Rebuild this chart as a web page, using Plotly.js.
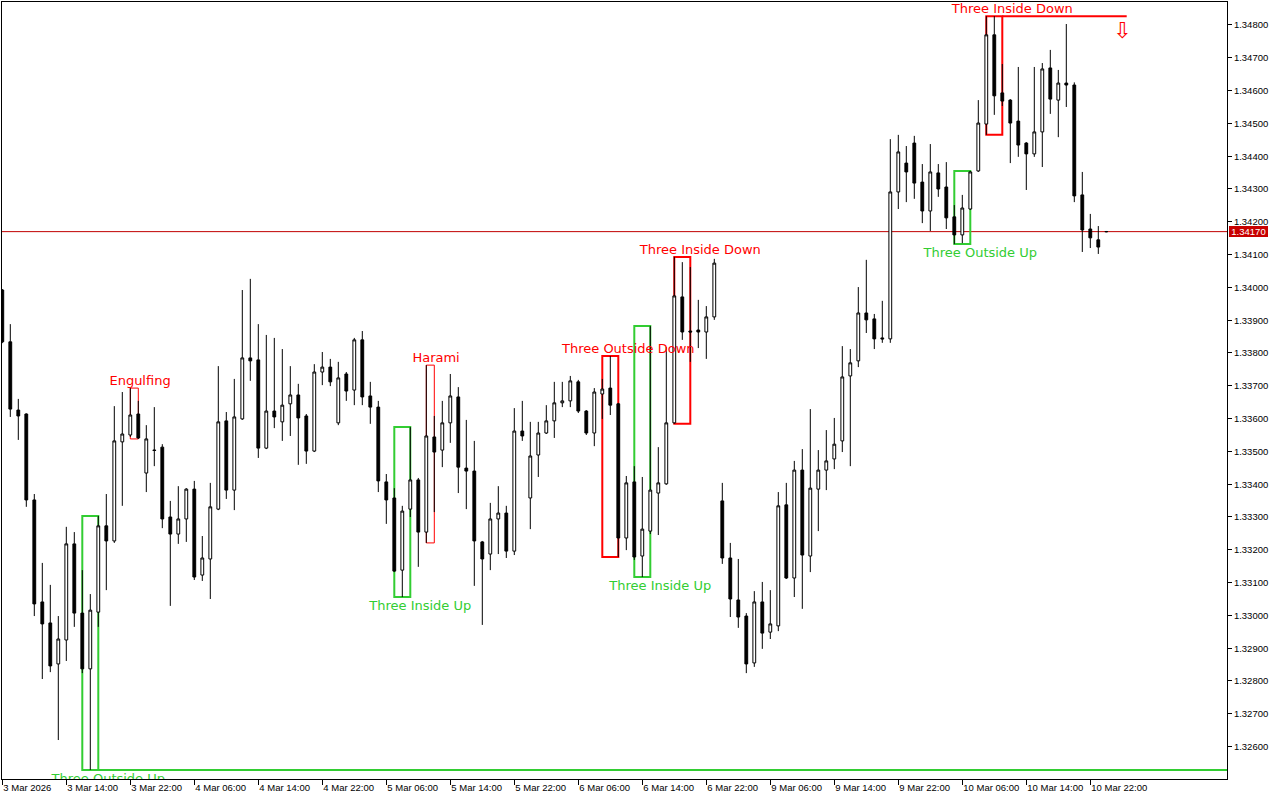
<!DOCTYPE html>
<html><head><meta charset="utf-8">
<script src="https://cdn.plot.ly/plotly-3.0.1.min.js"></script>
<style>html,body{margin:0;padding:0;background:#fff;}#chart{width:1280px;height:800px;}</style>
</head><body><div id="chart"></div>
<script>
// ---- hourly bars, 3 Mar 2026 06:00 -> 11 Mar 00:00 ----
const open = [
1.33992,1.33834,1.33626,1.33614,1.33352,1.33041,1.32977,1.32852,1.32925,1.33218,
1.33007,1.32837,1.33010,1.33273,1.33227,1.33529,1.33550,1.33614,1.33434,1.33504,
1.33513,1.33300,1.33248,1.33294,1.33385,1.33123,1.33172,1.33324,1.33593,1.33382,
1.33599,1.33785,1.33779,1.33510,1.33623,1.33590,1.33645,1.33672,1.33608,1.33501,
1.33742,1.33757,1.33587,1.33736,1.33687,1.33840,1.33669,1.33635,1.33407,1.33358,
1.33138,1.33324,1.33413,1.33254,1.33544,1.33504,1.33587,1.33666,1.33449,1.33440,
1.33224,1.33187,1.33294,1.33312,1.33196,1.33562,1.33358,1.33489,1.33556,1.33593,
1.33648,1.33654,1.33712,1.33623,1.33556,1.33675,1.33693,1.33645,1.33236,1.33407,
1.33181,1.33257,1.33373,1.33401,1.33587,1.33971,1.33867,1.33870,1.33864,1.33910,
1.33349,1.33175,1.33047,1.32998,1.32855,1.33041,1.32949,1.32968,1.33337,1.33114,
1.33443,1.33181,1.33385,1.33443,1.33477,1.33532,1.33730,1.33776,1.33922,1.33904,
1.33846,1.33843,1.34291,1.34379,1.34440,1.34321,1.34233,1.34349,1.34306,1.34215,
1.34160,1.34239,1.34355,1.34498,1.34770,1.34593,1.34571,1.34507,1.34440,1.34407,
1.34474,1.34669,1.34571,1.34623,1.34617,1.34282,1.34178,1.34145,1.34170];
const high = [
1.33995,1.33888,1.33660,1.33616,1.33370,1.33160,1.33093,1.32998,1.33270,1.33254,
1.33138,1.33065,1.33303,1.33370,1.33638,1.33681,1.33693,1.33654,1.33580,1.33635,
1.33522,1.33349,1.33394,1.33388,1.33410,1.33242,1.33404,1.33760,1.33620,1.33721,
1.33992,1.34026,1.33888,1.33855,1.33846,1.33812,1.33760,1.33706,1.33614,1.33766,
1.33803,1.33782,1.33773,1.33742,1.33846,1.33867,1.33712,1.33654,1.33431,1.33388,
1.33334,1.33574,1.33419,1.33763,1.33608,1.33654,1.33736,1.33696,1.33596,1.33532,
1.33227,1.33343,1.33394,1.33334,1.33632,1.33654,1.33590,1.33590,1.33641,1.33712,
1.33712,1.33730,1.33718,1.33626,1.33693,1.33721,1.33791,1.33648,1.33425,1.33455,
1.33422,1.33882,1.33513,1.33818,1.34093,1.34077,1.34062,1.33962,1.33943,1.34087,
1.33404,1.33221,1.33172,1.33007,1.33074,1.33102,1.33077,1.33376,1.33404,1.33471,
1.33507,1.33629,1.33504,1.33565,1.33602,1.33821,1.33812,1.34001,1.34084,1.33919,
1.33959,1.34452,1.34465,1.34431,1.34462,1.34376,1.34437,1.34376,1.34382,1.34251,
1.34282,1.34355,1.34571,1.34827,1.34827,1.34681,1.34574,1.34672,1.34443,1.34672,
1.34684,1.34724,1.34663,1.34803,1.34625,1.34352,1.34224,1.34187,1.34172];
const low = [
1.33830,1.33605,1.33535,1.33331,1.32998,1.32806,1.32827,1.32620,1.32861,1.32965,
1.32824,1.32529,1.32965,1.33077,1.33221,1.33334,1.33544,1.33538,1.33376,1.33455,
1.33266,1.33029,1.33218,1.33224,1.33108,1.33105,1.33050,1.33321,1.33355,1.33321,
1.33596,1.33715,1.33480,1.33507,1.33571,1.33532,1.33547,1.33459,1.33462,1.33498,
1.33702,1.33699,1.33580,1.33654,1.33641,1.33641,1.33584,1.33376,1.33279,1.33132,
1.33056,1.33300,1.33148,1.33221,1.33315,1.33452,1.33526,1.33373,1.33324,1.33090,
1.32971,1.33138,1.33187,1.33175,1.33184,1.33532,1.33263,1.33422,1.33553,1.33541,
1.33635,1.33635,1.33617,1.33550,1.33516,1.33599,1.33611,1.33178,1.33199,1.33169,
1.33117,1.33248,1.33245,1.33398,1.33584,1.33840,1.33773,1.33815,1.33782,1.33901,
1.33157,1.32995,1.32962,1.32824,1.32843,1.32898,1.32928,1.32952,1.33111,1.33056,
1.33020,1.33132,1.33257,1.33382,1.33446,1.33498,1.33455,1.33757,1.33861,1.33812,
1.33831,1.33831,1.34239,1.34260,1.34270,1.34196,1.34172,1.34276,1.34178,1.34132,
1.34135,1.34236,1.34352,1.34465,1.34526,1.34553,1.34379,1.34398,1.34297,1.34398,
1.34367,1.34529,1.34458,1.34550,1.34260,1.34108,1.34120,1.34102,1.34168];
const close = [
1.33834,1.33629,1.33608,1.33352,1.33035,1.32974,1.32846,1.32928,1.33218,1.33007,
1.32837,1.33016,1.33273,1.33227,1.33532,1.33553,1.33611,1.33541,1.33538,1.33503,
1.33294,1.33248,1.33294,1.33385,1.33117,1.33175,1.33331,1.33590,1.33382,1.33605,
1.33785,1.33776,1.33510,1.33623,1.33605,1.33641,1.33672,1.33602,1.33501,1.33742,
1.33757,1.33712,1.33724,1.33684,1.33840,1.33666,1.33635,1.33410,1.33352,1.33135,
1.33318,1.33413,1.33254,1.33547,1.33498,1.33587,1.33669,1.33452,1.33440,1.33227,
1.33172,1.33294,1.33312,1.33196,1.33562,1.33547,1.33486,1.33556,1.33593,1.33648,
1.33654,1.33715,1.33623,1.33556,1.33681,1.33690,1.33641,1.33236,1.33404,1.33178,
1.33263,1.33382,1.33404,1.33587,1.33974,1.33864,1.33864,1.33864,1.33910,1.34074,
1.33175,1.33050,1.32995,1.32852,1.33041,1.32946,1.32974,1.33334,1.33114,1.33443,
1.33184,1.33388,1.33443,1.33471,1.33522,1.33727,1.33770,1.33922,1.33901,1.33843,
1.33843,1.34291,1.34413,1.34352,1.34318,1.34233,1.34352,1.34300,1.34212,1.34160,
1.34242,1.34352,1.34501,1.34770,1.34584,1.34568,1.34501,1.34434,1.34407,1.34474,
1.34666,1.34574,1.34623,1.34617,1.34279,1.34175,1.34151,1.34123,1.34170];

// time-axis labels (bar index -> label)
const tickBars = [0,8,16,24,32,40,48,56,64,72,80,88,96,104,112,120,128,136];
const tickLabels = ['3 Mar 2026','3 Mar 14:00','3 Mar 22:00','4 Mar 06:00','4 Mar 14:00','4 Mar 22:00',
  '5 Mar 06:00','5 Mar 14:00','5 Mar 22:00','6 Mar 06:00','6 Mar 14:00','6 Mar 22:00',
  '9 Mar 06:00','9 Mar 14:00','9 Mar 22:00','10 Mar 06:00','10 Mar 14:00','10 Mar 22:00'];
const priceTicks = ['1.32600','1.32700','1.32800','1.32900','1.33000','1.33100','1.33200','1.33300',
  '1.33400','1.33500','1.33600','1.33700','1.33800','1.33900','1.34000','1.34100','1.34200',
  '1.34300','1.34400','1.34500','1.34600','1.34700','1.34800'];

// detected candlestick patterns
const patternNames = ['Three Outside Up','Engulfing','Three Inside Up','Harami','Three Outside Down',
  'Three Inside Up','Three Inside Down','Three Outside Up','Three Inside Down'];
const patternFirst = [10,16,49,53,75,79,84,119,123];
const patternLast  = [12,17,51,54,77,81,86,121,125];
const patternBullish = [true,false,true,false,false,true,false,true,false];
const currentPrice = 1.34170;
const signalBar = 140;

// ---- drawing ----
const bars = open.map((_, i) => i);
const xRange = [-0.0375, 153.0875];
const yRange = [1.325012, 1.348701];
const PLOT_H = 777;
const pxY = (yRange[1] - yRange[0]) / PLOT_H;
const UP = '#32cd32', DN = '#ff0000';

const shapes = [];
const tx = [], ty = [], ts = [], tc = [];
const boxHi = [], boxLo = [];
patternNames.forEach((name, i) => {
  const a = patternFirst[i], b = patternLast[i];
  let hi = -Infinity, lo = Infinity;
  for (let k = a; k <= b; k++) { hi = Math.max(hi, high[k]); lo = Math.min(lo, low[k]); }
  boxHi.push(hi); boxLo.push(lo);
  const col = patternBullish[i] ? UP : DN;
  const n = b - a + 1;
  shapes.push({type:'rect', xref:'x', yref:'y', x0:a, x1:b, y0:lo, y1:hi,
    line:{color:col, width: n >= 3 ? 2 : 1}, layer:'below'});
  tx.push((a + b) / 2 + (n >= 3 ? 2.25 : 0.72));
  ty.push(patternBullish[i] ? lo - 10 * pxY : hi + 6 * pxY);
  ts.push(name); tc.push(col);
});
// support line from the first pattern, resistance line from the last pattern
shapes.push({type:'line', xref:'x', yref:'y', x0:patternLast[0], x1:xRange[1], y0:boxLo[0], y1:boxLo[0],
  line:{color:UP, width:2}, layer:'below'});
const lp = patternNames.length - 1;
shapes.push({type:'line', xref:'x', yref:'y', x0:patternLast[lp], x1:signalBar + 0.55, y0:boxHi[lp], y1:boxHi[lp],
  line:{color:DN, width:2}, layer:'below'});
// current price line
shapes.push({type:'line', xref:'paper', yref:'y', x0:0, x1:1, y0:currentPrice, y1:currentPrice,
  line:{color:'#c00000', width:1}, layer:'below'});

const traces = [
  {type:'candlestick', x:bars, open:open, high:high, low:low, close:close,
   increasing:{line:{color:'#000', width:1}, fillcolor:'#ffffff'},
   decreasing:{line:{color:'#000', width:1}, fillcolor:'#000000'},
   whiskerwidth:0, hoverinfo:'skip', showlegend:false},
  {type:'scatter', mode:'text', x:tx, y:ty, text:ts, textposition:'middle center',
   textfont:{family:'DejaVu Sans', size:13, color:tc}, cliponaxis:true, hoverinfo:'skip', showlegend:false},
  {type:'scatter', mode:'text', x:[signalBar], y:[boxHi[lp] - 16 * pxY], text:['\u21e9'], textposition:'middle center',
   textfont:{family:'DejaVu Sans', size:22, color:DN}, cliponaxis:true, hoverinfo:'skip', showlegend:false}
];

const tickFont = {family:'Liberation Sans', size:9.5, color:'#000'};
const layout = {
  width:1280, height:800,
  margin:{l:2, r:53, t:2, b:21, pad:0},
  paper_bgcolor:'#ffffff', plot_bgcolor:'#ffffff',
  showlegend:false, hovermode:false, dragmode:false,
  boxgap:0.5,
  xaxis:{type:'linear', range:xRange, showgrid:false, zeroline:false, showline:true, mirror:true,
    linecolor:'#000', linewidth:1, ticks:'outside', ticklen:5, tickwidth:1, tickcolor:'#000',
    tickmode:'array', tickvals:tickBars, ticktext:tickLabels, ticklabelposition:'outside right',
    tickangle:0, automargin:false,
    tickfont:tickFont, rangeslider:{visible:false}, fixedrange:true},
  yaxis:{type:'linear', range:yRange, side:'right', showgrid:false, zeroline:false, showline:true, mirror:true,
    linecolor:'#000', linewidth:1, ticks:'outside', ticklen:4, tickwidth:1, tickcolor:'#000',
    tickmode:'array', tickvals:priceTicks.map(Number), ticktext:priceTicks, automargin:false,
    tickfont:tickFont, fixedrange:true},
  shapes:shapes,
  annotations:[{xref:'paper', yref:'y', x:1, y:currentPrice, xanchor:'left', yanchor:'middle', xshift:2,
    text:currentPrice.toFixed(5), showarrow:false, bgcolor:'#c80000', borderwidth:0, borderpad:1,
    width:37, height:9, font:{family:'Liberation Sans', size:9.5, color:'#ffffff'}}]
};
Plotly.newPlot('chart', traces, layout, {staticPlot:true, displayModeBar:false});
</script></body></html>
